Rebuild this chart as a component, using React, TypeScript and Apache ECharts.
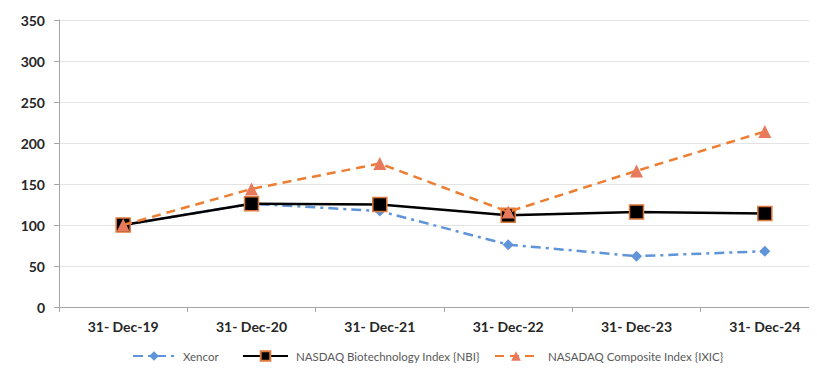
import React, { useEffect, useRef } from "react";
import * as echarts from "echarts";

const categories = ["31- Dec-19", "31- Dec-20", "31- Dec-21", "31- Dec-22", "31- Dec-23", "31- Dec-24"];
const seriesNames = ["Xencor", "NASDAQ Biotechnology Index {NBI}", "NASADAQ Composite Index {IXIC}"];
const xencor = [100, 126, 117, 76, 62, 68];
const nbi = [100, 126, 125, 112, 116, 114];
const ixic = [100, 144, 175, 116, 166, 214];
const yTicks = [0, 50, 100, 150, 200, 250, 300, 350];

export default function App() {
  const ref = useRef<HTMLDivElement>(null);
  useEffect(() => {
    const chart = echarts.init(ref.current!, null, { renderer: "svg" });
    const font = "Lato, 'Open Sans', sans-serif";
    const legendBase = {
      top: 350,
      padding: 0,
      itemWidth: 42,
      itemHeight: 12,
      itemGap: 7,
      textStyle: { fontFamily: font, fontSize: 11.5, color: "#595959", padding: [0, 0, 0, 3] },
    };
    chart.setOption({
      animation: false,
      grid: { left: 59, top: 20, width: 770, height: 287, containLabel: false },
      legend: [
        { ...legendBase, left: 132, data: [seriesNames[0]] },
        { ...legendBase, left: 242, itemWidth: 45, data: [seriesNames[1]] },
        { ...legendBase, left: 494, data: [seriesNames[2]], textStyle: { ...legendBase.textStyle, padding: [0, 0, 0, 6] } },
      ],
      xAxis: {
        type: "category",
        data: categories,
        boundaryGap: true,
        axisLine: { lineStyle: { color: "#a6a6a6", width: 1 } },
        axisTick: { show: true, length: 5, lineStyle: { color: "#a6a6a6" } },
        axisLabel: { fontFamily: font, fontWeight: "bold", fontSize: 14, color: "#262626", margin: 12 },
      },
      yAxis: {
        type: "value",
        min: yTicks[0],
        max: yTicks[yTicks.length - 1],
        interval: 50,
        axisLine: { show: true, lineStyle: { color: "#a6a6a6" } },
        axisTick: { show: true, length: 5, lineStyle: { color: "#a6a6a6" } },
        splitLine: { lineStyle: { color: "#e3e3e3" } },
        axisLabel: { fontFamily: font, fontWeight: "bold", fontSize: 14, color: "#262626", margin: 14 },
      },
      series: [
        {
          name: seriesNames[0],
          type: "line",
          data: xencor,
          symbol: "diamond",
          symbolSize: 11,
          itemStyle: { color: "#5f95d8" },
          lineStyle: { color: "#5f95d8", width: 2.5, type: [10, 5, 3, 5] },
          z: 2,
        },
        {
          name: seriesNames[1],
          type: "line",
          data: nbi,
          symbol: "rect",
          symbolSize: 14,
          itemStyle: { color: "#000000", borderColor: "#e07a3a", borderWidth: 1.5 },
          lineStyle: { color: "#000000", width: 2.5 },
          z: 3,
        },
        {
          name: seriesNames[2],
          type: "line",
          data: ixic,
          symbol: "triangle",
          symbolSize: 13,
          itemStyle: { color: "#e8795a" },
          lineStyle: { color: "#ed7d31", width: 2.5, type: [9, 6] },
          z: 4,
        },
      ],
    });
    return () => chart.dispose();
  }, []);
  return (
    <div style={{ width: 817, height: 372, margin: -8, overflow: "hidden" }}>
      <div ref={ref} style={{ width: 840, height: 372 }} />
    </div>
  );
}
